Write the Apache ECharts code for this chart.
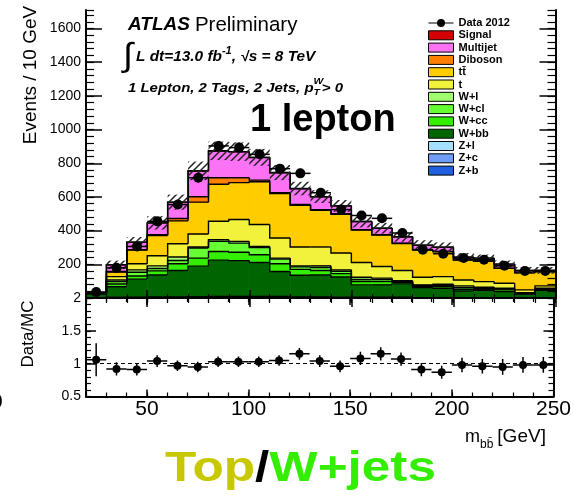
<!DOCTYPE html>
<html>
<head>
<meta charset="utf-8">
<script src="https://cdn.jsdelivr.net/npm/echarts@6/dist/echarts.min.js"></script>
<style>
  html, body { margin: 0; padding: 0; background: #fff; }
  #chart { width: 574px; height: 497px; }
</style>
</head>
<body>
<div id="chart"></div>
<script>
// m_bb distribution in the 1-lepton, 2-tag, 2-jet selection; 10 GeV bins from 20 to 250 GeV
const binLow = [20, 30, 40, 50, 60, 70, 80, 90, 100, 110, 120, 130, 140, 150, 160, 170, 180, 190, 200, 210, 220, 230, 240];
const binWidth = 10;

const data2012 = [35, 179, 306, 455, 555, 714, 903, 893, 853, 768, 740, 625, 525, 490, 473, 386, 287, 263, 237, 227, 191, 161, 161];
const data2012Err = [6, 13, 17, 21, 24, 27, 30, 30, 29, 28, 27, 25, 23, 22, 22, 20, 17, 16, 15, 15, 14, 13, 13];

// simulated contributions, listed from the bottom of the stack upwards
const zb = [1, 2, 2, 3, 3, 3, 6, 6, 6, 6, 3, 3, 2, 2, 2, 2, 1, 1, 1, 1, 1, 1, 1];
const zc = [0, 1, 1, 1, 1, 2, 2, 2, 2, 2, 1, 1, 1, 1, 1, 1, 1, 1, 0, 0, 0, 0, 0];
const zl = [0, 1, 1, 1, 1, 1, 1, 1, 1, 1, 1, 1, 1, 1, 1, 1, 0, 0, 0, 0, 0, 0, 0];
const wbb = [23, 63, 108, 132, 158, 183, 216, 213, 202, 148, 130, 132, 121, 74, 74, 80, 60, 56, 41, 45, 37, 23, 45];
const wcc = [2, 16, 19, 24, 40, 48, 51, 50, 46, 46, 35, 26, 20, 20, 20, 8, 8, 10, 10, 6, 10, 2, 2];
const wcl = [2, 14, 22, 14, 20, 60, 60, 54, 43, 28, 15, 18, 14, 12, 12, 6, 4, 8, 10, 6, 5, 3, 5];
const wl = [1, 10, 14, 16, 20, 6, 10, 10, 6, 6, 6, 10, 8, 13, 8, 5, 4, 6, 10, 6, 5, 3, 5];
const singleTop = [1, 20, 36, 60, 79, 77, 110, 130, 130, 119, 112, 112, 100, 88, 69, 60, 45, 45, 35, 33, 30, 16, 14];
const ttbar = [2, 27, 81, 120, 136, 189, 219, 219, 254, 264, 247, 218, 230, 193, 187, 161, 162, 148, 118, 121, 88, 102, 84];
const diboson = [0, 3, 3, 5, 14, 32, 39, 29, 10, 5, 5, 4, 4, 2, 2, 2, 2, 2, 2, 2, 1, 1, 1];
const multijet = [1, 40, 45, 70, 97, 153, 159, 154, 134, 119, 94, 76, 46, 48, 38, 38, 26, 25, 15, 16, 24, 13, 7];
const signal = [0, 0, 0, 0, 0, 1, 1, 1, 1, 1, 1, 1, 0, 0, 0, 0, 0, 0, 0, 0, 0, 0, 0];
// total background uncertainty (hatched band), events
const mcUncertainty = [5, 25, 30, 40, 45, 55, 55, 55, 50, 45, 40, 38, 35, 35, 32, 30, 30, 28, 25, 22, 22, 20, 20];

// Data / MC ratio
const ratio = [1.06, 0.92, 0.91, 1.04, 0.97, 0.95, 1.03, 1.03, 1.03, 1.05, 1.15, 1.04, 0.96, 1.08, 1.15, 1.07, 0.91, 0.87, 0.98, 0.96, 0.95, 0.98, 0.98];
const ratioErr = [0.25, 0.1, 0.09, 0.09, 0.08, 0.08, 0.08, 0.08, 0.08, 0.08, 0.09, 0.09, 0.09, 0.1, 0.1, 0.1, 0.1, 0.1, 0.11, 0.11, 0.12, 0.12, 0.12];

// axis tick labels
const massTicks = [50, 100, 150, 200, 250];
const eventTicks = [200, 400, 600, 800, 1000, 1200, 1400, 1600];
const ratioTicks = [0.5, 1, 1.5, 2];

const FONT = '"Liberation Sans", Arial, Helvetica, sans-serif';

const stackDefs = [
  { name: 'Z+b', values: zb, color: '#1f5fe0' },
  { name: 'Z+c', values: zc, color: '#6f9cf5' },
  { name: 'Z+l', values: zl, color: '#a6e0ff' },
  { name: 'W+bb', values: wbb, color: '#006400' },
  { name: 'W+cc', values: wcc, color: '#33ee00' },
  { name: 'W+cl', values: wcl, color: '#66ff33' },
  { name: 'W+l', values: wl, color: '#a0ff70' },
  { name: 't', values: singleTop, color: '#f2f23c' },
  { name: 'tt\u0304', values: ttbar, color: '#ffcc00' },
  { name: 'Diboson', values: diboson, color: '#ff8000' },
  { name: 'Multijet', values: multijet, color: '#fb72f5' },
  { name: 'Signal', values: signal, color: '#d40000' }
];

// stacked histogram: one custom series per component, drawn as filled bins with a step outline
const cumulative = binLow.map(() => 0);
const stackSeries = stackDefs.map(def => {
  const rows = binLow.map((lo, i) => [lo, lo + binWidth, cumulative[i], cumulative[i] + def.values[i]]);
  rows.forEach((r, i) => { cumulative[i] = r[3]; });
  rows.forEach((r, i) => r.push(i > 0 ? rows[i - 1][3] : 0));
  const fill = def.color;
  return {
    type: 'custom', name: def.name, xAxisIndex: 0, yAxisIndex: 0, z: 2, silent: true, clip: true,
    itemStyle: { color: fill },
    encode: { x: [0, 1], y: [2, 3] },
    data: rows,
    renderItem: (params, api) => {
      const a = api.coord([api.value(0), api.value(2)]);
      const b = api.coord([api.value(1), api.value(3)]);
      const prev = api.coord([api.value(0), api.value(4)]);
      return {
        type: 'group',
        children: [
          { type: 'rect', shape: { x: a[0], y: b[1], width: b[0] - a[0] + 0.6, height: a[1] - b[1] + 0.4 },
            style: { fill: fill } },
          { type: 'polyline', z2: 10,
            shape: { points: [prev, [a[0], b[1]], [b[0], b[1]]] },
            style: { stroke: '#000', lineWidth: 1.4, fill: null } }
        ]
      };
    }
  };
});

// diagonal hatching for the uncertainty band
function hatchPattern() {
  const s = 7;
  const c = document.createElement('canvas');
  c.width = s; c.height = s;
  const g = c.getContext('2d');
  g.strokeStyle = '#222';
  g.lineWidth = 1.5;
  g.beginPath();
  g.moveTo(-1, 1); g.lineTo(1, -1);
  g.moveTo(0, s); g.lineTo(s, 0);
  g.moveTo(s - 1, s + 1); g.lineTo(s + 1, s - 1);
  g.stroke();
  return c;
}
const hatch = { image: hatchPattern(), repeat: 'repeat' };
const bandRows = binLow.map((lo, i) => [lo, lo + binWidth, cumulative[i] - mcUncertainty[i], cumulative[i] + mcUncertainty[i]]);
const bandSeries = {
  type: 'custom', name: 'uncertainty', xAxisIndex: 0, yAxisIndex: 0, z: 3, silent: true, clip: true,
  encode: { x: [0, 1], y: [2, 3] },
  data: bandRows,
  renderItem: (params, api) => {
    const a = api.coord([api.value(0), api.value(2)]);
    const b = api.coord([api.value(1), api.value(3)]);
    return { type: 'rect', shape: { x: a[0], y: b[1], width: b[0] - a[0], height: a[1] - b[1] }, style: { fill: hatch } };
  }
};

// data points with horizontal (bin width) and vertical error bars
function pointRenderer(radius) {
  return (params, api) => {
    const lo = api.value(0), hi = api.value(1), v = api.value(2), e = api.value(3);
    const mid = (lo + hi) / 2;
    const L = api.coord([lo, v]), R = api.coord([hi, v]);
    const T = api.coord([mid, v + e]), B = api.coord([mid, v - e]);
    return {
      type: 'group',
      children: [
        { type: 'line', shape: { x1: L[0], y1: L[1], x2: R[0], y2: R[1] }, style: { stroke: '#000', lineWidth: 1.5 } },
        { type: 'line', shape: { x1: T[0], y1: T[1], x2: B[0], y2: B[1] }, style: { stroke: '#000', lineWidth: 1.5 } },
        { type: 'circle', shape: { cx: (L[0] + R[0]) / 2, cy: L[1], r: radius }, style: { fill: '#000' } }
      ]
    };
  };
}
const dataSeries = {
  type: 'custom', name: 'Data 2012', xAxisIndex: 0, yAxisIndex: 0, z: 4, silent: true, clip: true,
  itemStyle: { color: '#000' },
  encode: { x: [0, 1], y: 2 },
  data: binLow.map((lo, i) => [lo, lo + binWidth, data2012[i], data2012Err[i]]),
  renderItem: pointRenderer(5)
};
const ratioSeries = {
  type: 'custom', name: 'ratio', xAxisIndex: 4, yAxisIndex: 4, z: 4, silent: true, clip: true,
  itemStyle: { color: '#000' },
  encode: { x: [0, 1], y: 2 },
  data: binLow.map((lo, i) => [lo, lo + binWidth, ratio[i], ratioErr[i]]),
  renderItem: pointRenderer(4),
  markLine: {
    silent: true, symbol: 'none', label: { show: false },
    lineStyle: { color: '#000', width: 1, type: [4, 3] },
    data: [{ yAxis: 1 }]
  }
};

// axes: a dense one for the small ticks and an overlaid one for the long labelled ticks
const frameLine = { show: true, lineStyle: { color: '#000', width: 2 } };
function minorAxis(grid, pos, min, max, step, len) {
  return {
    type: 'value', gridIndex: grid, position: pos, min, max, interval: step,
    axisLine: frameLine,
    axisTick: { show: true, inside: true, length: len, lineStyle: { color: '#000', width: 1.2 } },
    axisLabel: { show: false }, splitLine: { show: false }, silent: true, z: 6
  };
}
function majorAxis(grid, pos, min, max, ticks, len, labels, labelStyle) {
  return {
    type: 'value', gridIndex: grid, position: pos, min, max,
    axisLine: { show: false },
    axisTick: { show: true, inside: true, length: len, customValues: ticks, lineStyle: { color: '#000', width: 1.5 } },
    axisLabel: labels ? Object.assign({ show: true, customValues: labels, formatter: v => String(v) }, labelStyle) : { show: false },
    splitLine: { show: false }, silent: true, z: 6
  };
}
const yLabelStyle = { fontSize: 14, color: '#000', fontFamily: FONT, margin: 5 };
const xLabelStyle = { fontSize: 21, color: '#000', fontFamily: FONT, margin: 2 };
const eventMajor = [0].concat(eventTicks);

const xAxes = [
  minorAxis(0, 'bottom', 20, 250, 10, 4),
  majorAxis(0, 'bottom', 20, 250, massTicks, 8),
  minorAxis(0, 'top', 20, 250, 10, 5),
  majorAxis(0, 'top', 20, 250, massTicks, 9),
  minorAxis(1, 'bottom', 20, 250, 10, 4),
  majorAxis(1, 'bottom', 20, 250, massTicks, 7, massTicks, xLabelStyle),
  minorAxis(1, 'top', 20, 250, 10, 4),
  majorAxis(1, 'top', 20, 250, massTicks, 7)
];
const yAxes = [
  minorAxis(0, 'left', 0, 1710, 40, 8),
  majorAxis(0, 'left', 0, 1710, eventMajor, 16, eventTicks, yLabelStyle),
  minorAxis(0, 'right', 0, 1710, 40, 8),
  majorAxis(0, 'right', 0, 1710, eventMajor, 16),
  minorAxis(1, 'left', 0.5, 2, 0.1, 5),
  majorAxis(1, 'left', 0.5, 2, ratioTicks, 10, ratioTicks, yLabelStyle),
  minorAxis(1, 'right', 0.5, 2, 0.1, 5),
  majorAxis(1, 'right', 0.5, 2, ratioTicks, 10)
];

// text pieces placed one after another along a line (sx stretches the run horizontally)
const measure = document.createElement('canvas').getContext('2d');
function textRun(x, y, parts, sx) {
  const k = sx || 1;
  const out = [];
  let cx = x;
  parts.forEach(p => {
    measure.font = p.font;
    const w = measure.measureText(p.text).width * k;
    out.push({
      type: 'text', x: cx, y: y + (p.dy || 0), scaleX: k, silent: true, z: 10,
      style: { text: p.text, font: p.font, fill: p.color || '#000', align: 'left', verticalAlign: 'middle' }
    });
    if (p.advance !== false) cx += w + (p.gap || 0);
  });
  return out;
}
const f = (style, size) => style + ' ' + size + 'px ' + FONT;

const texts = [].concat(
  textRun(128, 25, [
    { text: 'ATLAS', font: f('italic bold', 19), gap: 5 },
    { text: 'Preliminary', font: f('normal', 20.5) }
  ]),
  textRun(123, 57, [
    { text: '\u222B', font: f('normal', 33), gap: 3 },
    { text: 'L dt=13.0 fb', font: f('italic bold', 14), dy: 0 },
    { text: '-1', font: f('italic bold', 10), dy: -6 },
    { text: ', \u221As = 8 TeV', font: f('italic bold', 14), dy: 0 }
  ], 1.1),
  textRun(128, 88, [
    { text: '1 Lepton, 2 Tags, 2 Jets, p', font: f('italic bold', 13) },
    { text: 'W', font: f('italic bold', 9), dy: -6, advance: false },
    { text: 'T', font: f('italic bold', 9), dy: 5, gap: 2 },
    { text: '> 0', font: f('italic bold', 13) }
  ], 1.15),
  textRun(250, 121, [
    { text: '1 lepton', font: f('bold', 38) }
  ]),
  textRun(465, 437, [
    { text: 'm', font: f('normal', 18) },
    { text: 'bb\u0304', font: f('normal', 12), dy: 8, gap: 4 },
    { text: '[GeV]', font: f('normal', 19) }
  ]),
  [
    { type: 'text', x: 31, y: 75, rotation: Math.PI / 2, silent: true,
      style: { text: 'Events / 10 GeV', font: f('normal', 19), fill: '#000', align: 'center', verticalAlign: 'middle' } },
    { type: 'text', x: 28, y: 334, rotation: Math.PI / 2, silent: true,
      style: { text: 'Data/MC', font: f('normal', 17), fill: '#000', align: 'center', verticalAlign: 'middle' } },
    { type: 'text', x: -9, y: 402, silent: true,
      style: { text: '0', font: f('normal', 21), fill: '#000', align: 'left', verticalAlign: 'middle' } },
    { type: 'text', x: 165, y: 469, scaleX: 1.22, silent: true,
      style: {
        text: '{a|Top}{b|/}{c|W+jets}', align: 'left', verticalAlign: 'middle',
        rich: {
          a: { font: f('bold', 42), fill: '#c8c800' },
          b: { font: f('bold', 42), fill: '#000' },
          c: { font: f('bold', 42), fill: '#33ee00' }
        }
      } }
  ]
);

const dataIcon = 'path://M0,4 L25,4 L25,5 L0,5 Z M8.5,4.5 A4,4 0 1 1 16.5,4.5 A4,4 0 1 1 8.5,4.5 Z';

const option = {
  backgroundColor: '#fff',
  animation: false,
  grid: [
    { left: 86, top: 10, width: 469.5, height: 288 },
    { left: 86, top: 298, width: 469.5, height: 98.5 }
  ],
  xAxis: xAxes,
  yAxis: yAxes,
  legend: {
    orient: 'vertical', left: 428, top: 17.5, padding: 0,
    itemWidth: 25, itemHeight: 9, itemGap: 1.3, selectedMode: false,
    textStyle: { fontSize: 11, fontWeight: 'bold', color: '#000', fontFamily: FONT },
    itemStyle: { borderColor: '#000', borderWidth: 1 },
    data: [{ name: 'Data 2012', icon: dataIcon, itemStyle: { color: '#000', borderWidth: 0 } }]
      .concat(stackDefs.slice().reverse().map(d => ({ name: d.name, icon: 'rect' })))
  },
  graphic: texts,
  series: stackSeries.concat([bandSeries, dataSeries, ratioSeries])
};

const chart = echarts.init(document.getElementById('chart'));
chart.setOption(option);
</script>
</body>
</html>
